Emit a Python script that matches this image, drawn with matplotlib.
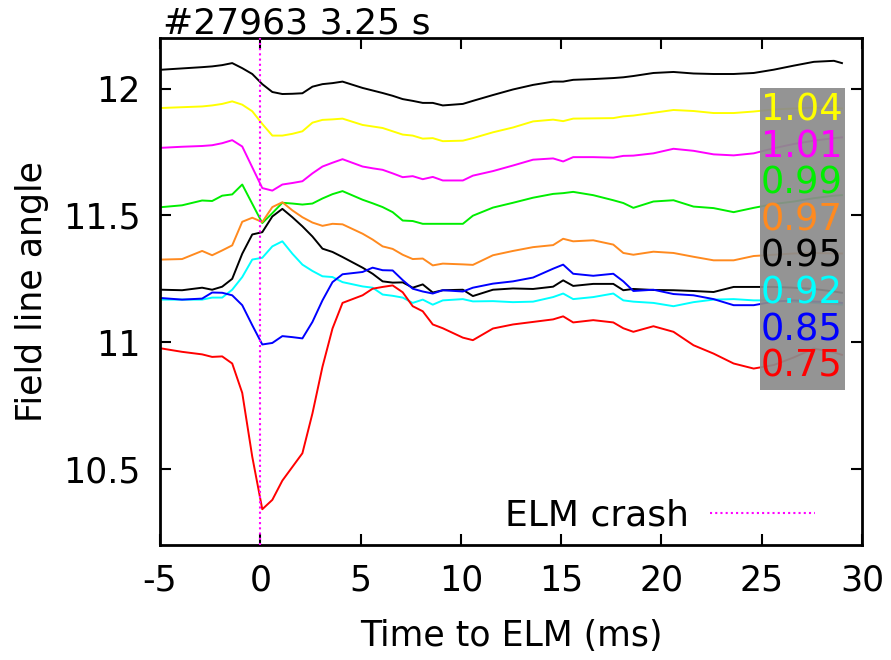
import matplotlib
matplotlib.use("Agg")
import matplotlib.pyplot as plt
from matplotlib.patches import Rectangle
from matplotlib.lines import Line2D

# ---- data ----
t = [-4.9, -3.9, -2.9, -2.4, -1.9, -1.4, -0.9, -0.4, 0.1, 0.6, 1.1, 1.6, 2.1, 2.6,
     3.1, 3.6, 4.1, 5.1, 5.6, 6.1, 6.6, 7.1, 7.6, 8.1, 8.6, 9.1, 10.1, 10.6, 11.6,
     12.6, 13.6, 14.6, 15.1, 15.6, 16.6, 17.6, 18.1, 18.6, 19.6, 20.6, 21.6, 22.6,
     23.6, 24.6, 25.6, 26.6, 27.6, 28.6, 29.0]

top_black = [12.075, 12.08, 12.085, 12.088, 12.093, 12.101, 12.081, 12.058, 12.018, 11.987,
             11.979, 11.98, 11.982, 12.008, 12.018, 12.022, 12.028, 12.003, 11.993, 11.983,
             11.972, 11.959, 11.952, 11.944, 11.944, 11.934, 11.94, 11.952, 11.975, 11.997,
             12.015, 12.028, 12.028, 12.035, 12.038, 12.042, 12.045, 12.05, 12.062, 12.066,
             12.06, 12.058, 12.058, 12.062, 12.075, 12.091, 12.106, 12.11, 12.101]

rho_104 = [11.924, 11.927, 11.93, 11.934, 11.94, 11.95, 11.937, 11.911, 11.861, 11.815,
           11.815, 11.822, 11.832, 11.866, 11.877, 11.879, 11.882, 11.857, 11.851, 11.845,
           11.832, 11.819, 11.815, 11.803, 11.805, 11.793, 11.795, 11.805, 11.828, 11.847,
           11.871, 11.878, 11.872, 11.882, 11.883, 11.884, 11.891, 11.894, 11.905, 11.916,
           11.912, 11.904, 11.904, 11.91, 11.918, 11.922, 11.925, 11.925, 11.922]

rho_101 = [11.767, 11.771, 11.774, 11.777, 11.785, 11.797, 11.772, 11.69, 11.608, 11.598,
           11.622, 11.628, 11.635, 11.666, 11.693, 11.708, 11.722, 11.693, 11.686, 11.68,
           11.666, 11.651, 11.655, 11.643, 11.652, 11.638, 11.638, 11.657, 11.675, 11.697,
           11.72, 11.725, 11.713, 11.73, 11.73, 11.728, 11.735, 11.736, 11.745, 11.763,
           11.755, 11.741, 11.737, 11.745, 11.765, 11.782, 11.795, 11.805, 11.808]

rho_099 = [11.533, 11.54, 11.559, 11.557, 11.578, 11.583, 11.622, 11.546, 11.47, 11.509,
           11.55, 11.547, 11.543, 11.547, 11.567, 11.584, 11.596, 11.562, 11.548, 11.533,
           11.513, 11.48, 11.478, 11.467, 11.467, 11.467, 11.467, 11.499, 11.531, 11.55,
           11.57, 11.585, 11.588, 11.593, 11.58, 11.56, 11.549, 11.53, 11.555, 11.56,
           11.535, 11.529, 11.513, 11.53, 11.545, 11.555, 11.568, 11.578, 11.58]

rho_097 = [11.326, 11.328, 11.36, 11.343, 11.362, 11.382, 11.475, 11.491, 11.474, 11.533,
           11.552, 11.52, 11.493, 11.472, 11.459, 11.467, 11.465, 11.428, 11.405, 11.378,
           11.368, 11.345, 11.328, 11.33, 11.303, 11.31, 11.307, 11.305, 11.343, 11.36,
           11.375, 11.383, 11.408, 11.398, 11.402, 11.385, 11.352, 11.345, 11.357, 11.352,
           11.337, 11.323, 11.323, 11.34, 11.345, 11.35, 11.352, 11.35, 11.35]

rho_095 = [11.207, 11.205, 11.215, 11.207, 11.219, 11.25, 11.349, 11.425, 11.434, 11.496,
           11.526, 11.493, 11.457, 11.417, 11.369, 11.356, 11.336, 11.294, 11.27, 11.24,
           11.235, 11.236, 11.215, 11.228, 11.196, 11.205, 11.207, 11.182, 11.207, 11.212,
           11.21, 11.219, 11.244, 11.222, 11.23, 11.23, 11.205, 11.21, 11.206, 11.205,
           11.202, 11.198, 11.218, 11.218, 11.218, 11.215, 11.21, 11.2, 11.195]

rho_092 = [11.168, 11.168, 11.168, 11.176, 11.176, 11.207, 11.257, 11.326, 11.333, 11.378,
           11.398, 11.349, 11.306, 11.281, 11.26, 11.257, 11.237, 11.22, 11.215, 11.188,
           11.183, 11.176, 11.155, 11.168, 11.148, 11.165, 11.17, 11.161, 11.162, 11.158,
           11.16, 11.178, 11.192, 11.17, 11.178, 11.192, 11.165, 11.16, 11.155, 11.142,
           11.158, 11.168, 11.17, 11.165, 11.165, 11.16, 11.155, 11.15, 11.148]

rho_085 = [11.174, 11.168, 11.172, 11.196, 11.195, 11.185, 11.146, 11.067, 10.991, 10.997,
           11.024, 11.02, 11.015, 11.08, 11.165, 11.237, 11.268, 11.277, 11.294, 11.284,
           11.283, 11.245, 11.211, 11.2, 11.192, 11.205, 11.2, 11.215, 11.231, 11.24,
           11.255, 11.29, 11.306, 11.27, 11.262, 11.27, 11.24, 11.202, 11.207, 11.19,
           11.185, 11.17, 11.146, 11.146, 11.16, 11.165, 11.16, 11.158, 11.155]

rho_075 = [10.975, 10.962, 10.952, 10.942, 10.944, 10.916, 10.8, 10.548, 10.341, 10.378,
           10.454, 10.508, 10.562, 10.719, 10.903, 11.054, 11.155, 11.185, 11.211, 11.218,
           11.224, 11.197, 11.142, 11.122, 11.07, 11.055, 11.018, 11.008, 11.054, 11.07,
           11.08, 11.09, 11.102, 11.078, 11.087, 11.078, 11.055, 11.041, 11.063, 11.041,
           10.988, 10.955, 10.916, 10.896, 10.91, 10.94, 10.975, 10.96, 10.95]

labels = ["1.04", "1.01", "0.99", "0.97", "0.95", "0.92", "0.85", "0.75"]
series = [rho_104, rho_101, rho_099, rho_097, rho_095, rho_092, rho_085, rho_075]
colors = ["#ffff00", "#ff00ff", "#00ee00", "#ff8a1f", "#000000", "#00ffff", "#0000ff", "#ff0000"]

elm_time = 0.0
title = "#27963 3.25 s"
xticks = [-5, 0, 5, 10, 15, 20, 25, 30]
yticks = [10.5, 11, 11.5, 12]

# ---- figure ----
W, H = 891, 660
fig = plt.figure(figsize=(W / 100, H / 100), dpi=100)
ax = fig.add_axes([160 / W, 1 - 545 / H, 702 / W, 507 / H])

ax.plot(t, top_black, color="black", lw=1.4, zorder=2)
for s, c in zip(series, colors):
    ax.plot(t, s, color=c, lw=1.4, zorder=2)

ax.axvline(elm_time, color="#ff00ff", lw=1.5, linestyle=(0, (1, 1.5)), zorder=3)

ax.set_xlim(-5, 30)
ax.set_ylim(10.2, 12.2)
ax.set_xticks(xticks)
ax.set_yticks(yticks)
ax.set_xticklabels([str(v) for v in xticks])
ax.set_yticklabels([("%g" % v) for v in yticks])

ax.tick_params(direction="in", length=8, width=1.5, top=True, right=True,
               labelsize=25, colors="black")
ax.tick_params(axis="x", pad=13)
ax.tick_params(axis="y", pad=14)
for sp in ax.spines.values():
    sp.set_linewidth(2.0)

ax.set_xlabel("Time to ELM (ms)", fontsize=25, labelpad=16)
ax.set_ylabel("Field line angle", fontsize=25, labelpad=10)

ax.text(3 / 702, 1 + 4 / 507, title, transform=ax.transAxes, fontsize=26,
        ha="left", va="baseline")

# label box (key)
box = Rectangle(((760 - 160) / 702, (545 - 390) / 507), 85 / 702, 302 / 507,
                transform=ax.transAxes, facecolor="#8c8c8c", edgecolor="none",
                alpha=0.93, zorder=4)
ax.add_patch(box)
for i, (lab, c) in enumerate(zip(labels, colors)):
    ypix = 110 + i * 36.6
    ax.text((761 - 160) / 702, (545 - ypix) / 507, lab, transform=ax.transAxes,
            fontsize=26.5, color=c, ha="left", va="center", zorder=5)

# ELM crash key
h = Line2D([], [], color="#ff00ff", lw=1.5, linestyle=(0, (1, 1.5)))
leg = ax.legend([h], ["ELM crash"], loc="lower right", frameon=False,
                markerfirst=False, fontsize=26, handlelength=2.9,
                handletextpad=0.6, borderpad=0, borderaxespad=0,
                bbox_to_anchor=((815 - 160) / 702, 12 / 507))

fig.savefig("out.png", dpi=100)
